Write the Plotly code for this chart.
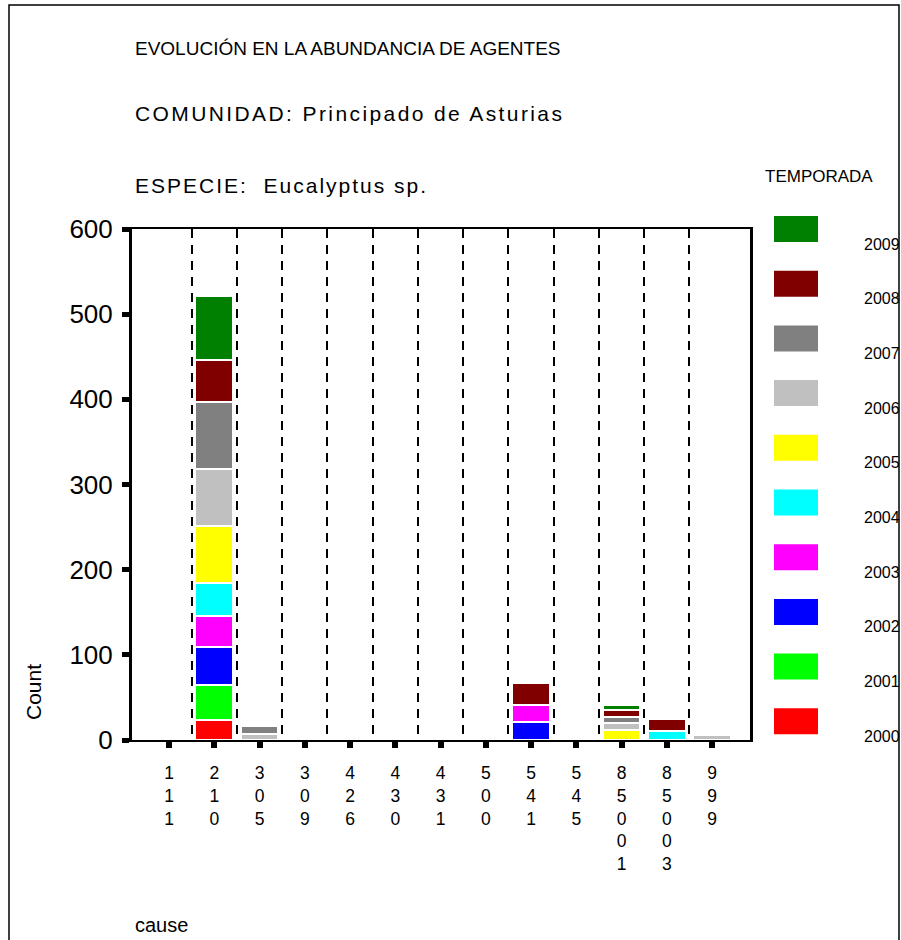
import plotly.graph_objects as go

categories = ["111", "210", "305", "309", "426", "430", "431", "500", "541", "545", "85001", "85003", "999"]
years = ["2000", "2001", "2002", "2003", "2004", "2005", "2006", "2007", "2008", "2009"]
colors = ["#FF0000", "#00FF00", "#0000FF", "#FF00FF", "#00FFFF", "#FFFF00",
          "#C0C0C0", "#808080", "#800000", "#008000"]

v2000 = [0, 24, 0, 0, 0, 0, 0, 0, 0, 0, 0, 0, 0]
v2001 = [0, 40, 0, 0, 0, 0, 0, 0, 0, 0, 0, 0, 0]
v2002 = [0, 45, 0, 0, 0, 0, 0, 0, 21, 0, 0, 0, 0]
v2003 = [0, 37, 0, 0, 0, 0, 0, 0, 20, 0, 0, 0, 0]
v2004 = [0, 38, 0, 0, 0, 0, 0, 0, 0, 0, 0, 11, 0]
v2005 = [0, 67, 0, 0, 0, 0, 0, 0, 0, 0, 12, 0, 0]
v2006 = [0, 67, 7, 0, 0, 0, 0, 0, 0, 0, 8, 0, 6]
v2007 = [0, 79, 10, 0, 0, 0, 0, 0, 0, 0, 7, 0, 0]
v2008 = [0, 49, 0, 0, 0, 0, 0, 0, 26, 0, 8, 14, 0]
v2009 = [0, 75, 0, 0, 0, 0, 0, 0, 0, 0, 6, 0, 0]
series = [v2000, v2001, v2002, v2003, v2004, v2005, v2006, v2007, v2008, v2009]

y_ticks = [0, 100, 200, 300, 400, 500, 600]

FONT = "Liberation Sans, Arial, sans-serif"
W, H = 901, 940
L, R, T, B = 132, 750, 229, 740  # plot area in pixels

def px(x):
    return (x - L) / (R - L)

def py(y):
    return (B - y) / (B - T)

xs = list(range(len(categories)))
fig = go.Figure()
for yr, col, vals in zip(years, colors, series):
    fig.add_trace(go.Bar(
        x=xs, y=[v if v else None for v in vals], name=yr,
        marker=dict(color=col, line=dict(color="white", width=2)),
        width=0.835, showlegend=False,
    ))

ticktext = ["<br>".join(list(c)) for c in categories]

fig.update_layout(
    width=W, height=H,
    margin=dict(l=L, r=W - R, t=T, b=H - B, pad=0),
    paper_bgcolor="white", plot_bgcolor="white",
    barmode="stack",
    font=dict(family=FONT, color="black"),
    xaxis=dict(
        range=[-0.818, 12.84], tickvals=xs, ticktext=ticktext,
        showline=True, linecolor="black", linewidth=2, mirror=True,
        ticks="outside", ticklen=6, tickwidth=6, tickcolor="black",
        tickfont=dict(size=17.5, family=FONT), showgrid=False, zeroline=False,
        ticklabelstandoff=10,
        minor=dict(tickvals=[i + 0.5 for i in range(len(categories) - 1)],
                   showgrid=True, gridcolor="black", gridwidth=2,
                   griddash="9px,7px", ticks=""),
    ),
    yaxis=dict(
        range=[0, 600], tickvals=y_ticks,
        showline=True, linecolor="black", linewidth=3, mirror=True,
        ticks="outside", ticklen=7, tickwidth=5, tickcolor="black",
        tickfont=dict(size=26, family=FONT), showgrid=False, zeroline=False,
        ticklabelstandoff=4,
    ),
)

shapes = []
# outer frame
shapes.append(dict(type="rect", xref="paper", yref="paper",
                   x0=px(9), x1=px(899), y0=py(948), y1=py(5),
                   line=dict(color="black", width=1.5), fillcolor="rgba(0,0,0,0)", layer="below"))
annotations = []
titles = [("EVOLUCIÓN EN LA ABUNDANCIA DE AGENTES", 48, 19),
          ("<span style='letter-spacing:2.4px'>COMUNIDAD: Principado de Asturias</span>", 113, 21),
          ("<span style='letter-spacing:2px'>ESPECIE:  Eucalyptus sp.</span>", 185, 21)]
for txt, yc, fs in titles:
    annotations.append(dict(text=txt, xref="paper", yref="paper", x=px(133), y=py(yc),
                            xanchor="left", yanchor="middle", showarrow=False,
                            font=dict(size=fs, family=FONT, color="black")))
annotations.append(dict(text="cause", xref="paper", yref="paper", x=px(133), y=py(925),
                        xanchor="left", yanchor="middle", showarrow=False,
                        font=dict(size=20, family=FONT, color="black")))
annotations.append(dict(text="Count", xref="paper", yref="paper", x=px(33), y=py(692),
                        xanchor="center", yanchor="middle", showarrow=False, textangle=-90,
                        font=dict(size=21, family=FONT, color="black")))
annotations.append(dict(text="TEMPORADA", xref="paper", yref="paper", x=px(763), y=py(176),
                        xanchor="left", yanchor="middle", showarrow=False,
                        font=dict(size=17, family=FONT, color="black")))

# custom legend (top = latest year)
for k, (yr, col) in enumerate(zip(years[::-1], colors[::-1])):
    top = 216 + 54.7 * k
    shapes.append(dict(type="rect", xref="paper", yref="paper",
                       x0=px(774), x1=px(818), y0=py(top + 26), y1=py(top),
                       line=dict(width=0), fillcolor=col))
    annotations.append(dict(text=yr, xref="paper", yref="paper", x=px(862), y=py(top + 28),
                            xanchor="left", yanchor="middle", showarrow=False,
                            font=dict(size=16, family=FONT, color="black")))

fig.update_layout(shapes=shapes, annotations=annotations)
fig.write_html("out.html", config={"displayModeBar": False},
               post_script="document.body.style.margin='0';document.body.style.overflow='hidden';")
